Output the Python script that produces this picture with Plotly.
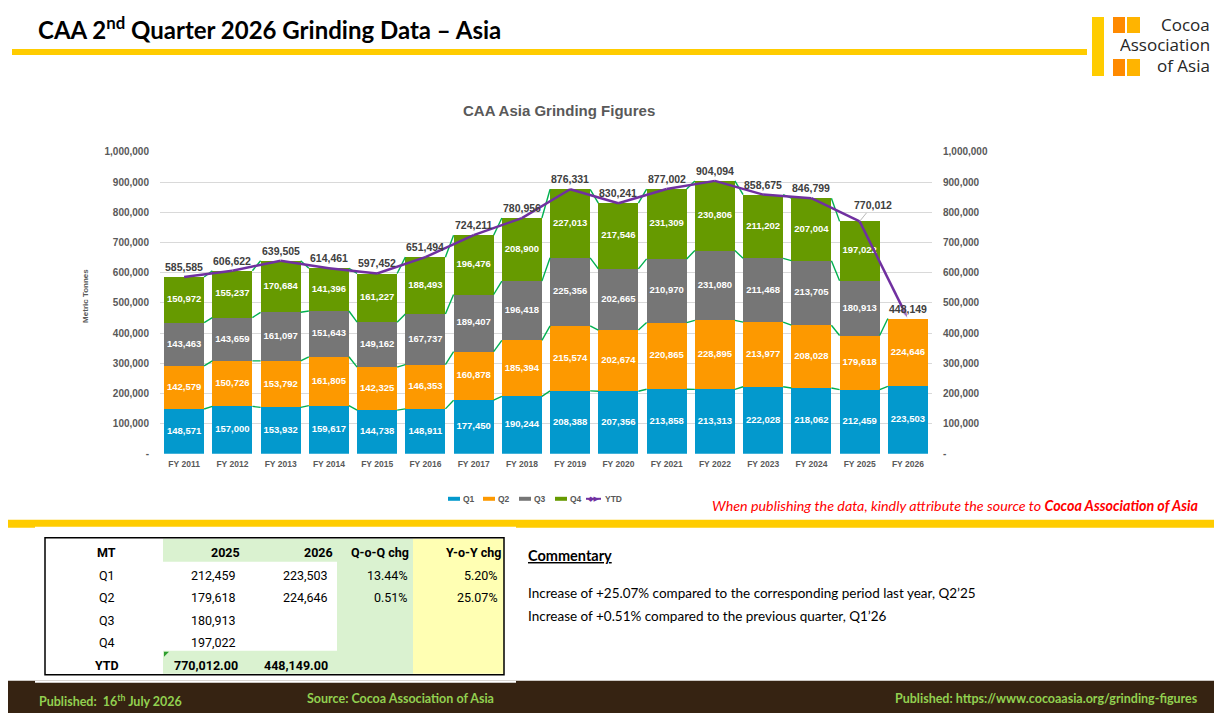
import plotly.graph_objects as go

W, H = 1222, 713
# the photographed page sits slightly offset/squeezed from the figure; map slide pixels onto it
OX, OY, SY = 8, 13, 0.985

# ---- data ----
years = ["FY 2011", "FY 2012", "FY 2013", "FY 2014", "FY 2015", "FY 2016", "FY 2017", "FY 2018",
         "FY 2019", "FY 2020", "FY 2021", "FY 2022", "FY 2023", "FY 2024", "FY 2025", "FY 2026"]
q1 = [148571, 157000, 153932, 159617, 144738, 148911, 177450, 190244,
      208388, 207356, 213858, 213313, 222028, 218062, 212459, 223503]
q2 = [142579, 150726, 153792, 161805, 142325, 146353, 160878, 185394,
      215574, 202674, 220865, 228895, 213977, 208028, 179618, 224646]
q3 = [143463, 143659, 161097, 151643, 149162, 167737, 189407, 196418,
      225356, 202665, 210970, 231080, 211468, 213705, 180913, None]
q4 = [150972, 155237, 170684, 141396, 161227, 188493, 196476, 208900,
      227013, 217546, 231309, 230806, 211202, 207004, 197022, None]

quarters = ["Q1", "Q2", "Q3", "Q4"]
quarter_colors = ["#0399CD", "#FD9900", "#767676", "#669A00"]
PURPLE = "#7030A0"

# table on the slide
tbl_rows = ["Q1", "Q2", "Q3", "Q4"]
tbl_2025 = [212459, 179618, 180913, 197022]
tbl_2026 = [223503, 224646, None, None]
tbl_qoq = ["13.44%", "0.51%", "", ""]
tbl_yoy = ["5.20%", "25.07%", "", ""]

commentary = ["Increase of +25.07% compared to the corresponding period last year, Q2\u201925",
              "Increase of +0.51% compared to the previous quarter, Q1\u201926"]

series = [q1, q2, q3, q4]
totals = [sum(v for v in col if v) for col in zip(*series)]
xs = list(range(len(years)))
BAR_W = 0.83


def px(x):
    return (x - OX) / W


def py(y):
    return 1 - ((y - OY) / SY) / H


fig = go.Figure()

# stacked bars
for name, vals, col in zip(quarters, series, quarter_colors):
    fig.add_trace(go.Bar(x=xs, y=vals, name=name, marker_color=col, width=BAR_W,
                         marker_line_width=0, hoverinfo="skip"))

# white value labels centred in each segment
base = [0] * len(xs)
for vals in series:
    lx, ly, lt = [], [], []
    for i, v in enumerate(vals):
        if v:
            lx.append(i)
            ly.append(base[i] + v / 2)
            lt.append(f"{v:,}")
            base[i] += v
    fig.add_trace(go.Scatter(x=lx, y=ly, text=lt, mode="text", showlegend=False,
                             textfont=dict(family="Arial", size=9.5, color="white", weight="bold"),
                             hoverinfo="skip", cliponaxis=False))

# green series lines joining the segment tops
cum = []
run = [0] * len(xs)
for vals in series:
    level = []
    for i, v in enumerate(vals):
        if v:
            run[i] += v
            level.append(run[i])
        else:
            level.append(None)
    cum.append(level)
sx, sy = [], []
hw = BAR_W / 2
for level in cum:
    for i in range(len(xs) - 1):
        if level[i] is not None and level[i + 1] is not None:
            sx += [i + hw, i + 1 - hw, None]
            sy += [level[i], level[i + 1], None]
fig.add_trace(go.Scatter(x=sx, y=sy, mode="lines", line=dict(color="#00B050", width=1.4),
                         showlegend=False, hoverinfo="skip"))

# YTD line
n = len(xs)
fig.add_trace(go.Scatter(
    x=xs, y=totals, name="YTD", mode="lines+markers",
    line=dict(color=PURPLE, width=2.5),
    marker=dict(color=PURPLE, symbol=["circle"] + ["circle"] * (n - 2) + ["arrow"],
                size=[9] + [0] * (n - 2) + [12], angleref="previous"),
    hoverinfo="skip"))

# dummy trace so the right axis is drawn
fig.add_trace(go.Scatter(x=[0], y=[0], yaxis="y2", mode="markers", marker_opacity=0,
                         showlegend=False, hoverinfo="skip"))

ticks = list(range(0, 1000001, 100000))
ticktext = ["-" if t == 0 else f"{t:,}" for t in ticks]
tickfont = dict(family="Arial", size=10, color="#595959", weight="bold")

fig.update_layout(
    width=W, height=H, margin=dict(l=0, r=0, t=0, b=0),
    paper_bgcolor="white", plot_bgcolor="white",
    barmode="stack", bargap=0, showlegend=False,
    xaxis=dict(domain=[px(160), px(932)], range=[-0.5, len(xs) - 0.5],
               tickvals=xs, ticktext=years, showgrid=False, zeroline=False,
               tickfont=dict(family="Arial", size=8.5, color="#595959", weight="bold"),
               ticklabelstandoff=4, fixedrange=True),
    yaxis=dict(domain=[py(454), py(152)], range=[0, 1000000], tickvals=ticks, ticktext=ticktext,
               showgrid=True, gridcolor="#D9D9D9", gridwidth=1, zeroline=False,
               tickfont=tickfont, ticklabelstandoff=10, fixedrange=True),
    yaxis2=dict(overlaying="y", side="right", range=[0, 1000000], tickvals=ticks, ticktext=ticktext,
                showgrid=False, zeroline=False, tickfont=tickfont, ticklabelstandoff=10,
                fixedrange=True),
)

ann = []
shapes = []


def text(x, y, s, size, color="#000000", xanchor="left", family="Lato", weight="normal",
         style="normal", **kw):
    if not s:
        return
    ann.append(dict(x=px(x), y=py(y), xref="paper", yref="paper", text=s, showarrow=False,
                    xanchor=xanchor, yanchor="middle",
                    font=dict(family=family, size=size, color=color, weight=weight, style=style),
                    **kw))


def rect(x0, y0, x1, y1, fill, line=None, lw=0, layer="below"):
    shapes.append(dict(type="rect", xref="paper", yref="paper", x0=px(x0), x1=px(x1),
                       y0=py(y1), y1=py(y0), fillcolor=fill, layer=layer,
                       line=dict(color=line or fill, width=lw)))


# total labels above bars
label_offsets = {14: (13, -16)}
for i, t in enumerate(totals):
    a = dict(x=i, y=t, xref="x", yref="y", text=f"{t:,}",
             font=dict(family="Arial", size=10.5, color="#404040", weight="bold"))
    if i in label_offsets:
        ax, ay = label_offsets[i]
        a.update(showarrow=True, ax=ax, ay=ay, arrowhead=0, arrowwidth=0.8,
                 arrowcolor="#A6A6A6", standoff=0)
    else:
        a.update(showarrow=False, yanchor="bottom", yshift=2)
    ann.append(a)

# chart title and axis title
text(559, 111, "CAA Asia Grinding Figures", 15, "#595959", "center", "Arial", "bold")
text(86, 296, "Metric Tonnes", 8, "#595959", "center", "Arial", "bold", textangle=-90)

# legend drawn by hand so it stays as compact as the original
leg_x = [448, 483, 519, 555]
for lx0, name, col in zip(leg_x, quarters, quarter_colors):
    rect(lx0, 497, lx0 + 12, 501, col)
    text(lx0 + 13, 499, name, 8.5, "#595959", "left", "Arial", "bold")
shapes.append(dict(type="line", xref="paper", yref="paper", x0=px(586), x1=px(601),
                   y0=py(499), y1=py(499), line=dict(color=PURPLE, width=2)))
text(593, 499, "\u25C6\u25B6", 7, PURPLE, "center", "DejaVu Sans")
text(603, 499, "YTD", 8.5, "#595959", "left", "Arial", "bold")

# header
text(36, 28, "CAA 2<sup>nd</sup> Quarter 2026 Grinding Data \u2013 Asia", 24, "#000000",
     "left", "Lato", "bold")
for ly, word in zip([25, 45, 66], ["Cocoa", "Association", "of Asia"]):
    text(1212, ly, word, 17, "#262626", "right", "Open Sans", height=15, valign="middle")

# attribution note
text(1200, 506, "When publishing the data, kindly attribute the source to "
     "<b>Cocoa Association of Asia</b>", 14.3, "#FF0000", "right", "Lato", style="italic")

# commentary
text(526, 556, "<b><u>Commentary</u></b>", 14.5, "#000000", "left", "Lato")
for k, line in enumerate(commentary):
    text(526, 593 + 23 * k, line, 13.5, "#000000", "left", "Lato")

# footer
text(37, 701, "Published:  16<sup>th</sup> July 2026", 12.5, "#92D050", "left", "Lato", "bold")
text(305, 699, "Source: Cocoa Association of Asia", 12.5, "#92D050", "left", "Lato", "bold")
text(1200, 699, "Published: https://www.cocoaasia.org/grinding-figures", 12.5, "#92D050",
     "right", "Lato", "bold")

# table text
tf = "Roboto"
row_y = [576, 598, 621, 643]
text(107, 553, "MT", 12.5, "#000000", "center", tf, "bold")
text(242, 553, "2025", 12.5, "#000000", "right", tf, "bold")
text(335, 553, "2026", 12.5, "#000000", "right", tf, "bold")
text(411, 553, "Q-o-Q chg", 12.5, "#000000", "right", tf, "bold")
text(503, 553, "Y-o-Y chg", 12.5, "#000000", "right", tf, "bold")
for y, lab, a, b, c, d in zip(row_y, tbl_rows, tbl_2025, tbl_2026, tbl_qoq, tbl_yoy):
    text(107, y, lab, 12.5, "#000000", "center", tf)
    text(238, y, f"{a:,}" if a else "", 12.5, "#000000", "right", tf)
    text(330, y, f"{b:,}" if b else "", 12.5, "#000000", "right", tf)
    text(410, y, c, 12.5, "#000000", "right", tf)
    text(500, y, d, 12.5, "#000000", "right", tf)
ytd_2025 = sum(v for v in tbl_2025 if v)
ytd_2026 = sum(v for v in tbl_2026 if v)
text(107, 666, "YTD", 12.5, "#000000", "center", tf, "bold")
text(240, 666, f"{ytd_2025:,.2f}", 12.5, "#000000", "right", tf, "bold")
text(330, 666, f"{ytd_2026:,.2f}", 12.5, "#000000", "right", tf, "bold")

fig.update_layout(annotations=ann)

YELLOW = "#FFCC00"
rect(12, 49, 1087, 55, YELLOW)
# logo blocks
rect(1092, 17, 1104, 76, YELLOW)
rect(1113, 17, 1125, 33, "#FF8A00")
rect(1127, 17, 1140, 33, "#FFB400")
rect(1113, 59, 1125, 76, "#FF8A00")
rect(1127, 59, 1140, 76, "#FFB400")
# lower band, table area and footer
rect(0, 520, W + OX, 528, YELLOW)
rect(35, 527, 516, 682, "white")
rect(0, 681, W + OX, H + 40, "#362312")
rect(35, 681, 516, 683, "white")
rect(163, 539, 337, 562, "#DAF2D0")
rect(337, 539, 413, 674, "#DAF2D0")
rect(413, 539, 504, 674, "#FFFFB3")
rect(163, 651, 337, 674, "#DAF2D0")
shapes.append(dict(type="rect", xref="paper", yref="paper", x0=px(45), x1=px(504),
                   y0=py(675), y1=py(538), line=dict(color="#000000", width=1.5),
                   fillcolor="rgba(0,0,0,0)", layer="above"))
shapes.append(dict(type="path", xref="paper", yref="paper", fillcolor="#2E9E2E",
                   line=dict(width=0),
                   path=f"M {px(164)} {py(652)} L {px(169)} {py(652)} L {px(164)} {py(657)} Z"))
fig.update_layout(shapes=shapes)

fig.write_html("out.html")
